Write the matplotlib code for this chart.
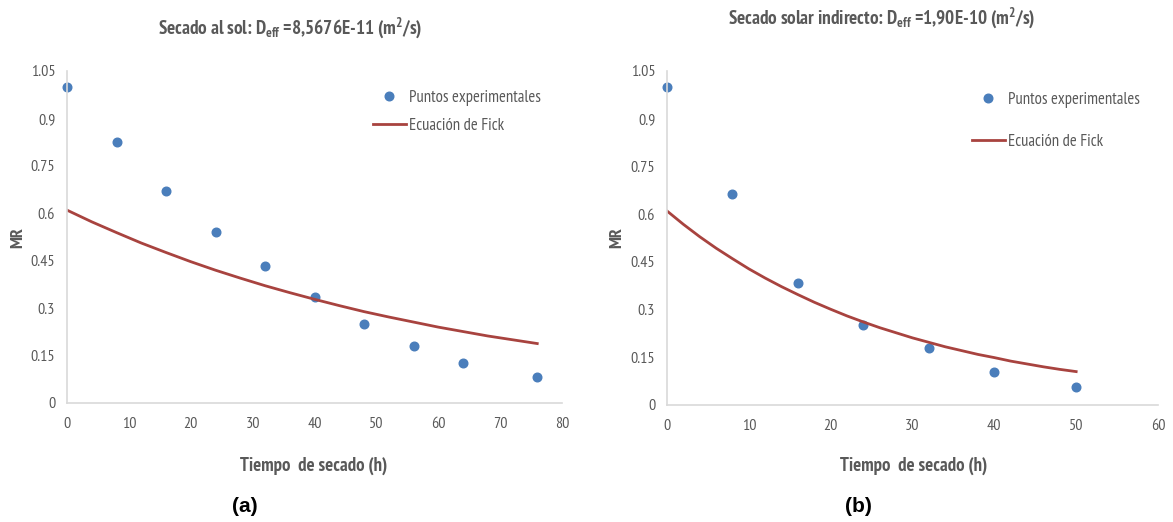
import matplotlib
matplotlib.use("Agg")
import matplotlib.pyplot as plt
from matplotlib import font_manager as fm

# narrow sans face, falls back to the regular one
installed = {f.name for f in fm.fontManager.ttflist}
narrow = next((n for n in ['Liberation Sans Narrow', 'Arial Narrow', 'PT Sans Narrow',
                           'Archivo Narrow', 'Roboto Condensed', 'Liberation Sans']
               if n in installed), 'DejaVu Sans')

plt.rcParams['font.family'] = [narrow, 'DejaVu Sans']
plt.rcParams['mathtext.fontset'] = 'custom'
plt.rcParams['mathtext.rm'] = narrow + ':bold'
plt.rcParams['mathtext.it'] = narrow + ':bold'
plt.rcParams['mathtext.bf'] = narrow + ':bold'

# (a) secado al sol
t_sol = [0, 8, 16, 24, 32, 40, 48, 56, 64, 76]
mr_sol = [1.00, 0.826, 0.672, 0.542, 0.432, 0.334, 0.251, 0.181, 0.125, 0.083]
t_fick_sol = [0, 4, 8, 12, 16, 20, 24, 28, 32, 36, 40, 44, 48, 52, 56, 60, 64, 68, 72, 76]
mr_fick_sol = [0.610, 0.573, 0.539, 0.506, 0.476, 0.447, 0.420, 0.395, 0.371, 0.349,
               0.328, 0.308, 0.289, 0.272, 0.256, 0.240, 0.226, 0.212, 0.200, 0.188]

# (b) secado solar indirecto
t_ind = [0, 8, 16, 24, 32, 40, 50]
mr_ind = [1.00, 0.662, 0.383, 0.253, 0.180, 0.104, 0.057]
t_fick_ind = [0, 2, 4, 6, 8, 10, 12, 14, 16, 18, 20, 22, 24, 26, 28, 30, 32, 34, 36,
              38, 40, 42, 44, 46, 48, 50]
mr_fick_ind = [0.610, 0.568, 0.529, 0.493, 0.460, 0.428, 0.399, 0.372, 0.347, 0.323,
               0.301, 0.280, 0.261, 0.243, 0.227, 0.211, 0.197, 0.183, 0.171, 0.159,
               0.149, 0.138, 0.129, 0.120, 0.112, 0.105]

yticks = [0, 0.15, 0.3, 0.45, 0.6, 0.75, 0.9, 1.05]
ytick_labels = ['0', '0.15', '0.3', '0.45', '0.6', '0.75', '0.9', '1.05']

pt_color = '#4a7ebb'
fick_color = '#a8433f'
txt_gray = '#595959'
spine_gray = '#d9d9d9'

fig = plt.figure(figsize=(11.73, 5.22), dpi=100)
W, H = 1173, 522


def px_axes(x0, x1, y0, y1):
    return fig.add_axes([x0 / W, 1 - y0 / H, (x1 - x0) / W, (y0 - y1) / H])


def style(ax, xmax, xstep):
    ax.set_xlim(0, xmax)
    ax.set_ylim(0, 1.05)
    ax.set_xticks(range(0, xmax + 1, xstep))
    ax.set_yticks(yticks)
    ax.set_yticklabels(ytick_labels)
    for s in ['top', 'right']:
        ax.spines[s].set_visible(False)
    for s in ['left', 'bottom']:
        ax.spines[s].set_color(spine_gray)
        ax.spines[s].set_linewidth(1.2)
    ax.tick_params(length=0, labelsize=11.5, labelcolor=txt_gray)
    ax.tick_params(axis='x', pad=10)
    ax.tick_params(axis='y', pad=8.5)


def legend(ax, x, y, spacing):
    ax.legend(loc='upper left', bbox_to_anchor=(x / W, 1 - y / H),
              bbox_transform=fig.transFigure, frameon=False, borderpad=0,
              borderaxespad=0, fontsize=12, labelspacing=spacing,
              handlelength=1.95, handletextpad=0.2, labelcolor=txt_gray)


ax1 = px_axes(67, 562, 403, 71)
ax1.plot(t_sol, mr_sol, 'o', color=pt_color, ms=6.2, label='Puntos experimentales', clip_on=False)
ax1.plot(t_fick_sol, mr_fick_sol, '-', color=fick_color, lw=2, label='Ecuación de Fick')
style(ax1, 80, 10)
legend(ax1, 373, 90, 0.72)

ax2 = px_axes(667, 1158, 405, 71)
ax2.plot(t_ind, mr_ind, 'o', color=pt_color, ms=6.2, label='Puntos experimentales', clip_on=False)
ax2.plot(t_fick_ind, mr_fick_ind, '-', color=fick_color, lw=2, label='Ecuación de Fick')
style(ax2, 60, 10)
legend(ax2, 972, 92, 1.58)

fig.text(290 / W, 1 - 28 / H, r'Secado al sol: D$_{eff}$ =8,5676E-11 (m$^2$/s)',
         ha='center', va='center', fontsize=13.8, fontweight='bold', color=txt_gray)
fig.text(882 / W, 1 - 18 / H, r'Secado solar indirecto: D$_{eff}$ =1,90E-10 (m$^2$/s)',
         ha='center', va='center', fontsize=13.8, fontweight='bold', color=txt_gray)

for x in (18, 617):
    fig.text(x / W, 1 - 238 / H, 'MR', rotation=90, ha='center', va='center',
             fontsize=13, fontweight='bold', color=txt_gray)
for x in (314, 914):
    fig.text(x / W, 1 - 466 / H, 'Tiempo  de secado (h)', ha='center', va='center',
             fontsize=13.5, fontweight='bold', color=txt_gray)

fig.text(245 / W, 1 - 506 / H, '(a)', ha='center', va='center', fontsize=15,
         fontweight='bold', family=['Liberation Sans', 'DejaVu Sans'], color='black')
fig.text(858 / W, 1 - 506 / H, '(b)', ha='center', va='center', fontsize=15,
         fontweight='bold', family=['Liberation Sans', 'DejaVu Sans'], color='black')

fig.savefig('out.png', dpi=100)
